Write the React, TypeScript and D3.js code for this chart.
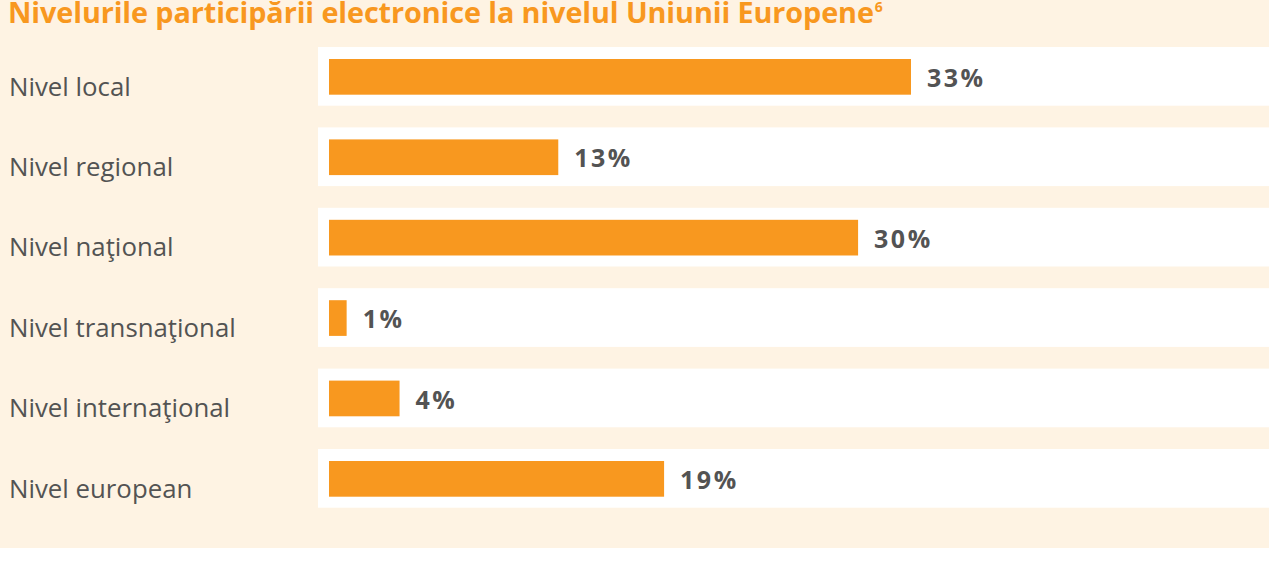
import React from "react";
import * as d3 from "d3";

const title = "Nivelurile participării electronice la nivelul Uniunii Europene";
const titleSup = "6";
const categories = [
  "Nivel local",
  "Nivel regional",
  "Nivel naţional",
  "Nivel transnaţional",
  "Nivel internaţional",
  "Nivel european",
];
const values = [33, 13, 30, 1, 4, 19];

const W = 1269;
const H = 561;
const ORANGE = "#F8981F";
const CREAM = "#FEF3E3";
const GRAY = "#535353";

export default function App() {
  const y = d3
    .scaleBand<string>()
    .domain(categories)
    .range([47, 507.7])
    .paddingInner(0.27)
    .paddingOuter(0);
  const x = d3.scaleLinear().domain([0, 33]).range([329, 911]);
  const bw = y.bandwidth();

  return (
    <svg
      width={W}
      height={H}
      style={{ position: "absolute", left: 0, top: 0, display: "block" }}
      fontFamily="'Open Sans', sans-serif"
    >
      <rect x={0} y={0} width={W} height={H} fill="#ffffff" />
      <rect x={0} y={0} width={W} height={548} fill={CREAM} />
      <text x={8} y={23} fontSize={28.8} fontWeight={700} fill={ORANGE} letterSpacing={-0.1}>
        {title}
        <tspan fontSize={14} dy={-11} dx={1}>{titleSup}</tspan>
      </text>
      {categories.map((c, i) => {
        const top = y(c) as number;
        const v = values[i];
        return (
          <g key={c}>
            <rect x={318} y={top} width={W - 318} height={bw} fill="#ffffff" />
            <rect
              x={x(0)}
              y={top + 12}
              width={x(v) - x(0)}
              height={bw - 23}
              fill={ORANGE}
            />
            <text x={9} y={top + 48.5} fontSize={25.8} fill={GRAY}>
              {c}
            </text>
            <text
              x={x(v) + 16}
              y={top + 40}
              fontSize={25}
              fontWeight={700}
              fill={GRAY}
              letterSpacing={2.5}
            >
              {v + "%"}
            </text>
          </g>
        );
      })}
    </svg>
  );
}
